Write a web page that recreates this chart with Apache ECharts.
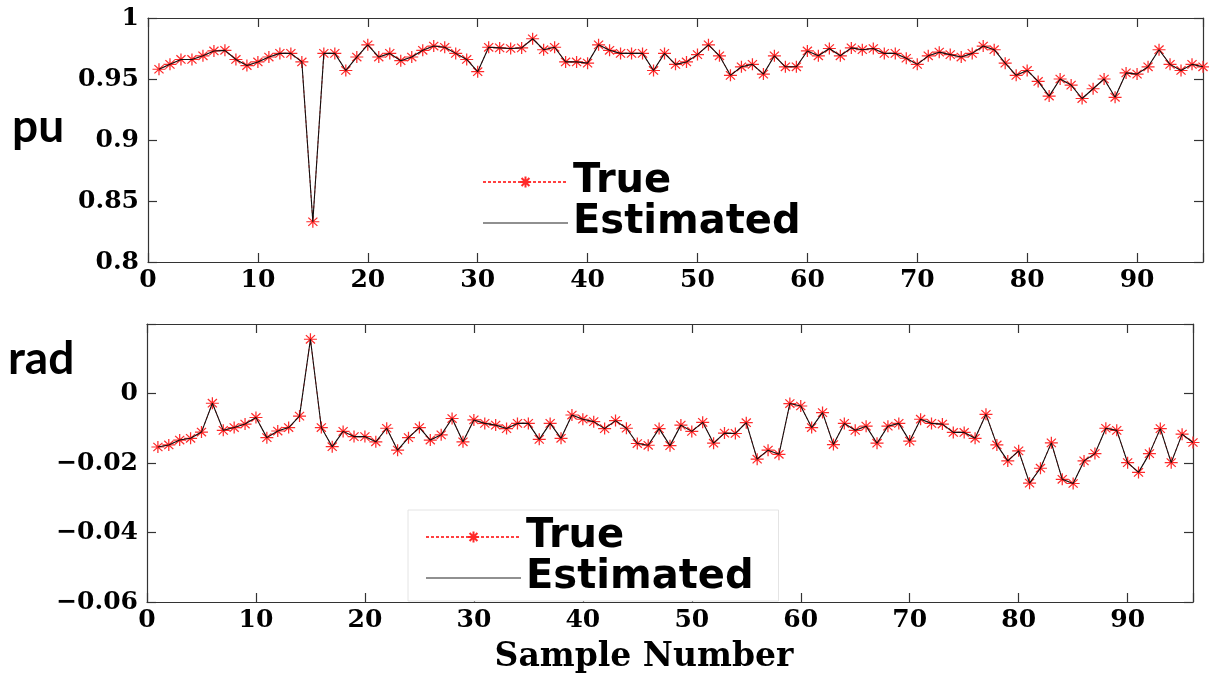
<!DOCTYPE html>
<html>
<head>
<meta charset="utf-8">
<script src="https://cdn.jsdelivr.net/npm/echarts@6/dist/echarts.min.js"></script>
<style>
html,body{margin:0;padding:0;background:#fff;}
#chart{width:1209px;height:675px;}
</style>
</head>
<body>
<div id="chart"></div>
<script>
// ---- data ----
const xTicks = [0, 10, 20, 30, 40, 50, 60, 70, 80, 90];
const puTicks = [0.8, 0.85, 0.9, 0.95, 1];
const radTicks = [-0.06, -0.04, -0.02, 0];
const seriesNames = ['True', 'Estimated'];

const puTrue = [0.958,0.962,0.966,0.966,0.969,0.973,0.9735,0.966,0.961,0.964,
0.968,0.971,0.971,0.964,0.833,0.971,0.971,0.957,0.968,0.978,
0.968,0.971,0.965,0.968,0.9735,0.977,0.976,0.971,0.966,0.956,
0.976,0.9755,0.975,0.9755,0.983,0.974,0.976,0.964,0.964,0.963,
0.978,0.9735,0.971,0.971,0.971,0.957,0.971,0.962,0.964,0.970,
0.978,0.969,0.953,0.960,0.962,0.954,0.969,0.960,0.960,0.973,
0.969,0.975,0.969,0.9755,0.974,0.975,0.971,0.971,0.967,0.962,
0.969,0.972,0.970,0.968,0.971,0.977,0.974,0.963,0.953,0.957,
0.948,0.936,0.950,0.945,0.934,0.942,0.950,0.935,0.955,0.954,
0.960,0.974,0.962,0.957,0.962,0.960];

const puEstimated = [0.958,0.962,0.966,0.966,0.969,0.973,0.9735,0.966,0.961,0.964,
0.968,0.971,0.971,0.964,0.833,0.971,0.971,0.957,0.968,0.978,
0.968,0.971,0.965,0.968,0.9735,0.977,0.976,0.971,0.966,0.956,
0.976,0.9755,0.975,0.9755,0.983,0.974,0.976,0.964,0.964,0.963,
0.978,0.9735,0.971,0.971,0.971,0.957,0.971,0.962,0.964,0.970,
0.978,0.969,0.953,0.960,0.962,0.954,0.969,0.960,0.960,0.973,
0.969,0.975,0.969,0.9755,0.974,0.975,0.971,0.971,0.967,0.962,
0.969,0.972,0.970,0.968,0.971,0.977,0.974,0.963,0.953,0.957,
0.948,0.936,0.950,0.945,0.934,0.942,0.950,0.935,0.955,0.954,
0.960,0.974,0.962,0.957,0.962,0.960];

const radTrue = [-0.0154,-0.0148,-0.0134,-0.0129,-0.0111,-0.0028,-0.0106,-0.0098,-0.0088,-0.0069,
-0.0127,-0.0108,-0.0098,-0.0065,0.0156,-0.0098,-0.0153,-0.0109,-0.0124,-0.0124,
-0.0139,-0.0100,-0.0163,-0.0127,-0.0098,-0.0134,-0.0119,-0.0072,-0.0139,-0.0076,
-0.0086,-0.0091,-0.0101,-0.0086,-0.0086,-0.0132,-0.0086,-0.0129,-0.0062,-0.0074,
-0.0081,-0.0101,-0.0078,-0.0100,-0.0144,-0.0149,-0.0101,-0.0150,-0.0091,-0.0109,
-0.0083,-0.0143,-0.0114,-0.0115,-0.0084,-0.0189,-0.0163,-0.0175,-0.0029,-0.0036,
-0.0098,-0.0055,-0.0147,-0.0086,-0.0106,-0.0094,-0.0143,-0.0094,-0.0086,-0.0137,
-0.0074,-0.0086,-0.0088,-0.0112,-0.0112,-0.0129,-0.0060,-0.0148,-0.0194,-0.0165,
-0.0258,-0.0215,-0.0142,-0.0247,-0.0259,-0.0194,-0.0173,-0.0100,-0.0106,-0.0199,
-0.0227,-0.0173,-0.0101,-0.0199,-0.0117,-0.0141];

const radEstimated = [-0.0154,-0.0148,-0.0134,-0.0129,-0.0111,-0.0028,-0.0106,-0.0098,-0.0088,-0.0069,
-0.0127,-0.0108,-0.0098,-0.0065,0.0156,-0.0098,-0.0153,-0.0109,-0.0124,-0.0124,
-0.0139,-0.0100,-0.0163,-0.0127,-0.0098,-0.0134,-0.0119,-0.0072,-0.0139,-0.0076,
-0.0086,-0.0091,-0.0101,-0.0086,-0.0086,-0.0132,-0.0086,-0.0129,-0.0062,-0.0074,
-0.0081,-0.0101,-0.0078,-0.0100,-0.0144,-0.0149,-0.0101,-0.0150,-0.0091,-0.0109,
-0.0083,-0.0143,-0.0114,-0.0115,-0.0084,-0.0189,-0.0163,-0.0175,-0.0029,-0.0036,
-0.0098,-0.0055,-0.0147,-0.0086,-0.0106,-0.0094,-0.0143,-0.0094,-0.0086,-0.0137,
-0.0074,-0.0086,-0.0088,-0.0112,-0.0112,-0.0129,-0.0060,-0.0148,-0.0194,-0.0165,
-0.0258,-0.0215,-0.0142,-0.0247,-0.0259,-0.0194,-0.0173,-0.0100,-0.0106,-0.0199,
-0.0227,-0.0173,-0.0101,-0.0199,-0.0117,-0.0141];

// ---- build ----
const toPairs = arr => arr.map((v, i) => [i + 1, v]);
const ASTERISK = 'path://M0 5L10 5M5 0L5 10M1.5 1.5L8.5 8.5M8.5 1.5L1.5 8.5';
const PLAIN_LINE = 'path://M0 0H100V1.2H0Z';
const tickFont = {fontFamily: 'DejaVu Serif', fontWeight: 'bold', fontSize: 25, color: '#000'};
const AX = '#333';

function xAx(gridIndex, pos, main) {
  return {
    type: 'value', gridIndex, position: pos, min: 0, max: 96, interval: 10,
    axisLine: {show: true, onZero: false, lineStyle: {color: AX, width: 1.2}},
    axisTick: {show: true, inside: true, length: 9, lineStyle: {color: AX, width: 1.2}},
    axisLabel: main ? Object.assign({show: true, margin: 6,
      formatter: v => xTicks.includes(v) ? String(v) : ''}, tickFont) : {show: false},
    splitLine: {show: false}
  };
}
function yAx(gridIndex, pos, main, min, max, interval, ticks) {
  return {
    type: 'value', gridIndex, position: pos, min, max, interval,
    axisLine: {show: true, onZero: false, lineStyle: {color: AX, width: 1.2}},
    axisTick: {show: true, inside: true, length: 9, lineStyle: {color: AX, width: 1.2}},
    axisLabel: main ? Object.assign({show: true, margin: 9,
      formatter: v => {
        const t = ticks.find(k => Math.abs(k - v) < 1e-9);
        if (t === undefined) return '';
        return String(t).replace('-', '\u2212');
      }}, tickFont) : {show: false},
    splitLine: {show: false}
  };
}

function trueSeries(name, xi, yi, data) {
  return {
    name, type: 'line', xAxisIndex: xi, yAxisIndex: yi, data: toPairs(data),
    symbol: ASTERISK, symbolSize: [13, 12], showAllSymbol: true,
    itemStyle: {color: '#ff2a2a', borderColor: '#ff2a2a', borderWidth: 1.2},
    lineStyle: {color: '#ff4040', width: 1, type: [3, 2]},
    z: 2
  };
}
function estSeries(name, xi, yi, data) {
  return {
    name, type: 'line', xAxisIndex: xi, yAxisIndex: yi, data: toPairs(data),
    symbol: 'none', showSymbol: false,
    itemStyle: {color: '#111'},
    lineStyle: {color: '#111', width: 1.1},
    z: 3
  };
}

const legendText = {fontFamily: 'DejaVu Sans', fontWeight: 'bold', fontSize: 40, color: '#000'};
const legendData = [
  {name: seriesNames[0]},
  {name: seriesNames[1], icon: PLAIN_LINE, itemStyle: {color: '#222'}}
];

const option = {
  animation: false,
  backgroundColor: '#fff',
  grid: [
    {left: 148, top: 18, width: 1055, height: 244, containLabel: false},
    {left: 147, top: 324, width: 1046, height: 279, containLabel: false}
  ],
  xAxis: [
    xAx(0, 'bottom', true), xAx(0, 'top', false),
    Object.assign(xAx(1, 'bottom', true), {name: 'Sample Number', nameLocation: 'middle', nameGap: 39,
      nameTextStyle: {fontFamily: 'DejaVu Serif', fontWeight: 'bold', fontSize: 33, color: '#000',
        padding: [0, 52, 0, 0]}}),
    xAx(1, 'top', false)
  ],
  yAxis: [
    yAx(0, 'left', true, 0.8, 1, 0.05, puTicks), yAx(0, 'right', false, 0.8, 1, 0.05, puTicks),
    yAx(1, 'left', true, -0.06, 0.02, 0.02, radTicks), yAx(1, 'right', false, -0.06, 0.02, 0.02, radTicks)
  ],
  legend: [
    {data: legendData, orient: 'vertical', left: 482, top: 162, padding: 0, itemGap: 1,
     itemWidth: 85, itemHeight: 14, textStyle: legendText, selectedMode: false,
     backgroundColor: '#fff'},
    {data: legendData, orient: 'vertical', left: 408, top: 510, padding: [7, 25, 3, 17], itemGap: 1,
     itemWidth: 95, itemHeight: 14, textStyle: legendText, selectedMode: false,
     backgroundColor: '#fff', borderColor: '#e4e4e4', borderWidth: 1}
  ],
  graphic: [
    {type: 'text', left: 12, top: 104, style: {text: 'pu', fontFamily: 'Lato', fontWeight: 'bold', fontSize: 46, fill: '#000'}},
    {type: 'text', left: 8, top: 336, style: {text: 'rad', fontFamily: 'Lato', fontWeight: 'bold', fontSize: 46, fill: '#000'}}
  ],
  series: [
    trueSeries(seriesNames[0], 0, 0, puTrue),
    estSeries(seriesNames[1], 0, 0, puEstimated),
    trueSeries(seriesNames[0], 2, 2, radTrue),
    estSeries(seriesNames[1], 2, 2, radEstimated)
  ]
};

const chart = echarts.init(document.getElementById('chart'), null, {renderer: 'canvas'});
chart.setOption(option);
</script>
</body>
</html>
